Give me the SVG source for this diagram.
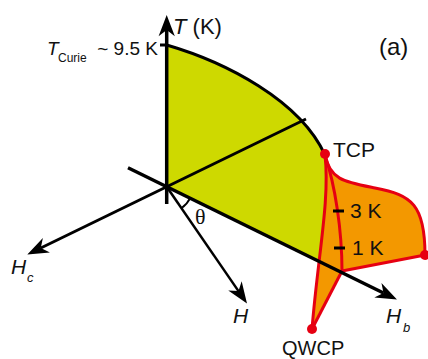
<svg xmlns="http://www.w3.org/2000/svg" width="428" height="359" viewBox="0 0 428 359">
<defs>
<style>
.t{font-family:"Liberation Sans",Arial,sans-serif;fill:#111;}
.i{font-style:italic;}
.ax{stroke:#000;fill:none;stroke-linecap:butt;}
.red{stroke:#E60012;stroke-width:3;fill:none;stroke-linejoin:round;}
.dot{fill:#E60012;}
</style>
<marker id="arr" markerUnits="userSpaceOnUse" orient="auto" markerWidth="30" markerHeight="20" refX="0" refY="0" viewBox="-6 -8 20 16" overflow="visible">
<path d="M12,0 L-5,-6.5 L0,0 L-5,6.5 Z" fill="#000"/>
</marker>
</defs>
<rect width="428" height="359" fill="#fff"/>
<g id="phase-ferro">
<path d="M166.7,45 C225,62 300,100 325,155 C328.35,185.15 324.07,219.79 319.07,261.6 L166.7,186.7 Z" fill="#CED900"/>
</g>
<g id="phase-wings">
<path d="M325,155 C330,200 318,255 312,329 L342,271 C342,230 335,185 325,155 Z" fill="#F39800"/>
<path d="M325,155 C335,185 342,230 342,271 L425,255 C425,205 412,195 375,188 C345,182 330,180 325,155 Z" fill="#F39800"/>
</g>
<g id="connectors">
<path class="ax" stroke-width="3" d="M166.7,45 C225,62 300,100 325,155"/>
<line class="ax" stroke-width="3" x1="160" y1="45" x2="166.7" y2="45"/>
<line class="ax" stroke-width="3.5" x1="166.7" y1="204" x2="166.7" y2="30" marker-end="url(#arr)"/>
<line class="ax" stroke-width="3" x1="306" y1="119" x2="40.8" y2="248" marker-end="url(#arr)"/>
<path class="red" d="M325,155 C330,200 318,255 312,329"/>
<path class="red" d="M325,155 C335,185 342,230 342,271 L425,255"/>
<path class="red" d="M342,271 L312,329"/>
<path class="red" d="M325,155 C330,180 345,182 375,188 C412,195 425,205 425,255"/>
<line class="ax" stroke-width="3.5" x1="128" y1="167.8" x2="383.5" y2="293" marker-end="url(#arr)"/>
<line class="ax" stroke-width="2.5" x1="166.7" y1="186.7" x2="238.5" y2="291.1" marker-end="url(#arr)"/>
<path class="ax" stroke-width="2" d="M190.1,198.1 A26,26 0 0 1 181.6,208"/>
<line class="ax" stroke-width="3" x1="333" y1="211" x2="344" y2="211"/>
<line class="ax" stroke-width="3" x1="334" y1="248" x2="345" y2="248"/>
</g>
<g id="TCP"><circle class="dot" cx="325" cy="154" r="5"/><text class="t" x="333" y="157" font-size="21">TCP</text></g>
<g id="QWCP"><circle class="dot" cx="312" cy="329" r="5"/><text class="t" x="282" y="355" font-size="20">QWCP</text></g>
<g id="endpoint"><circle class="dot" cx="425" cy="255" r="5"/></g>
<g id="labels">
<text class="t" x="173" y="34" font-size="22"><tspan class="i">T</tspan> (K)</text>
<text class="t i" x="47" y="55" font-size="19">T</text>
<text class="t" x="58" y="62" font-size="12">Curie</text>
<text class="t" x="158" y="55" font-size="19" text-anchor="end">~ 9.5 K</text>
<text class="t" x="379" y="55" font-size="24">(a)</text>
<text class="t" x="350" y="218" font-size="21">3 K</text>
<text class="t" x="352" y="255" font-size="21">1 K</text>
<text class="t i" x="11" y="274" font-size="21">H</text>
<text class="t i" x="27" y="282" font-size="13">c</text>
<text class="t i" x="233" y="323" font-size="21">H</text>
<text class="t i" x="386" y="323" font-size="21">H</text>
<text class="t i" x="403" y="332" font-size="13">b</text>
<text x="195" y="224" font-size="22" style="font-family:'Liberation Serif','Times New Roman',serif;fill:#111">θ</text>
</g>
</svg>
